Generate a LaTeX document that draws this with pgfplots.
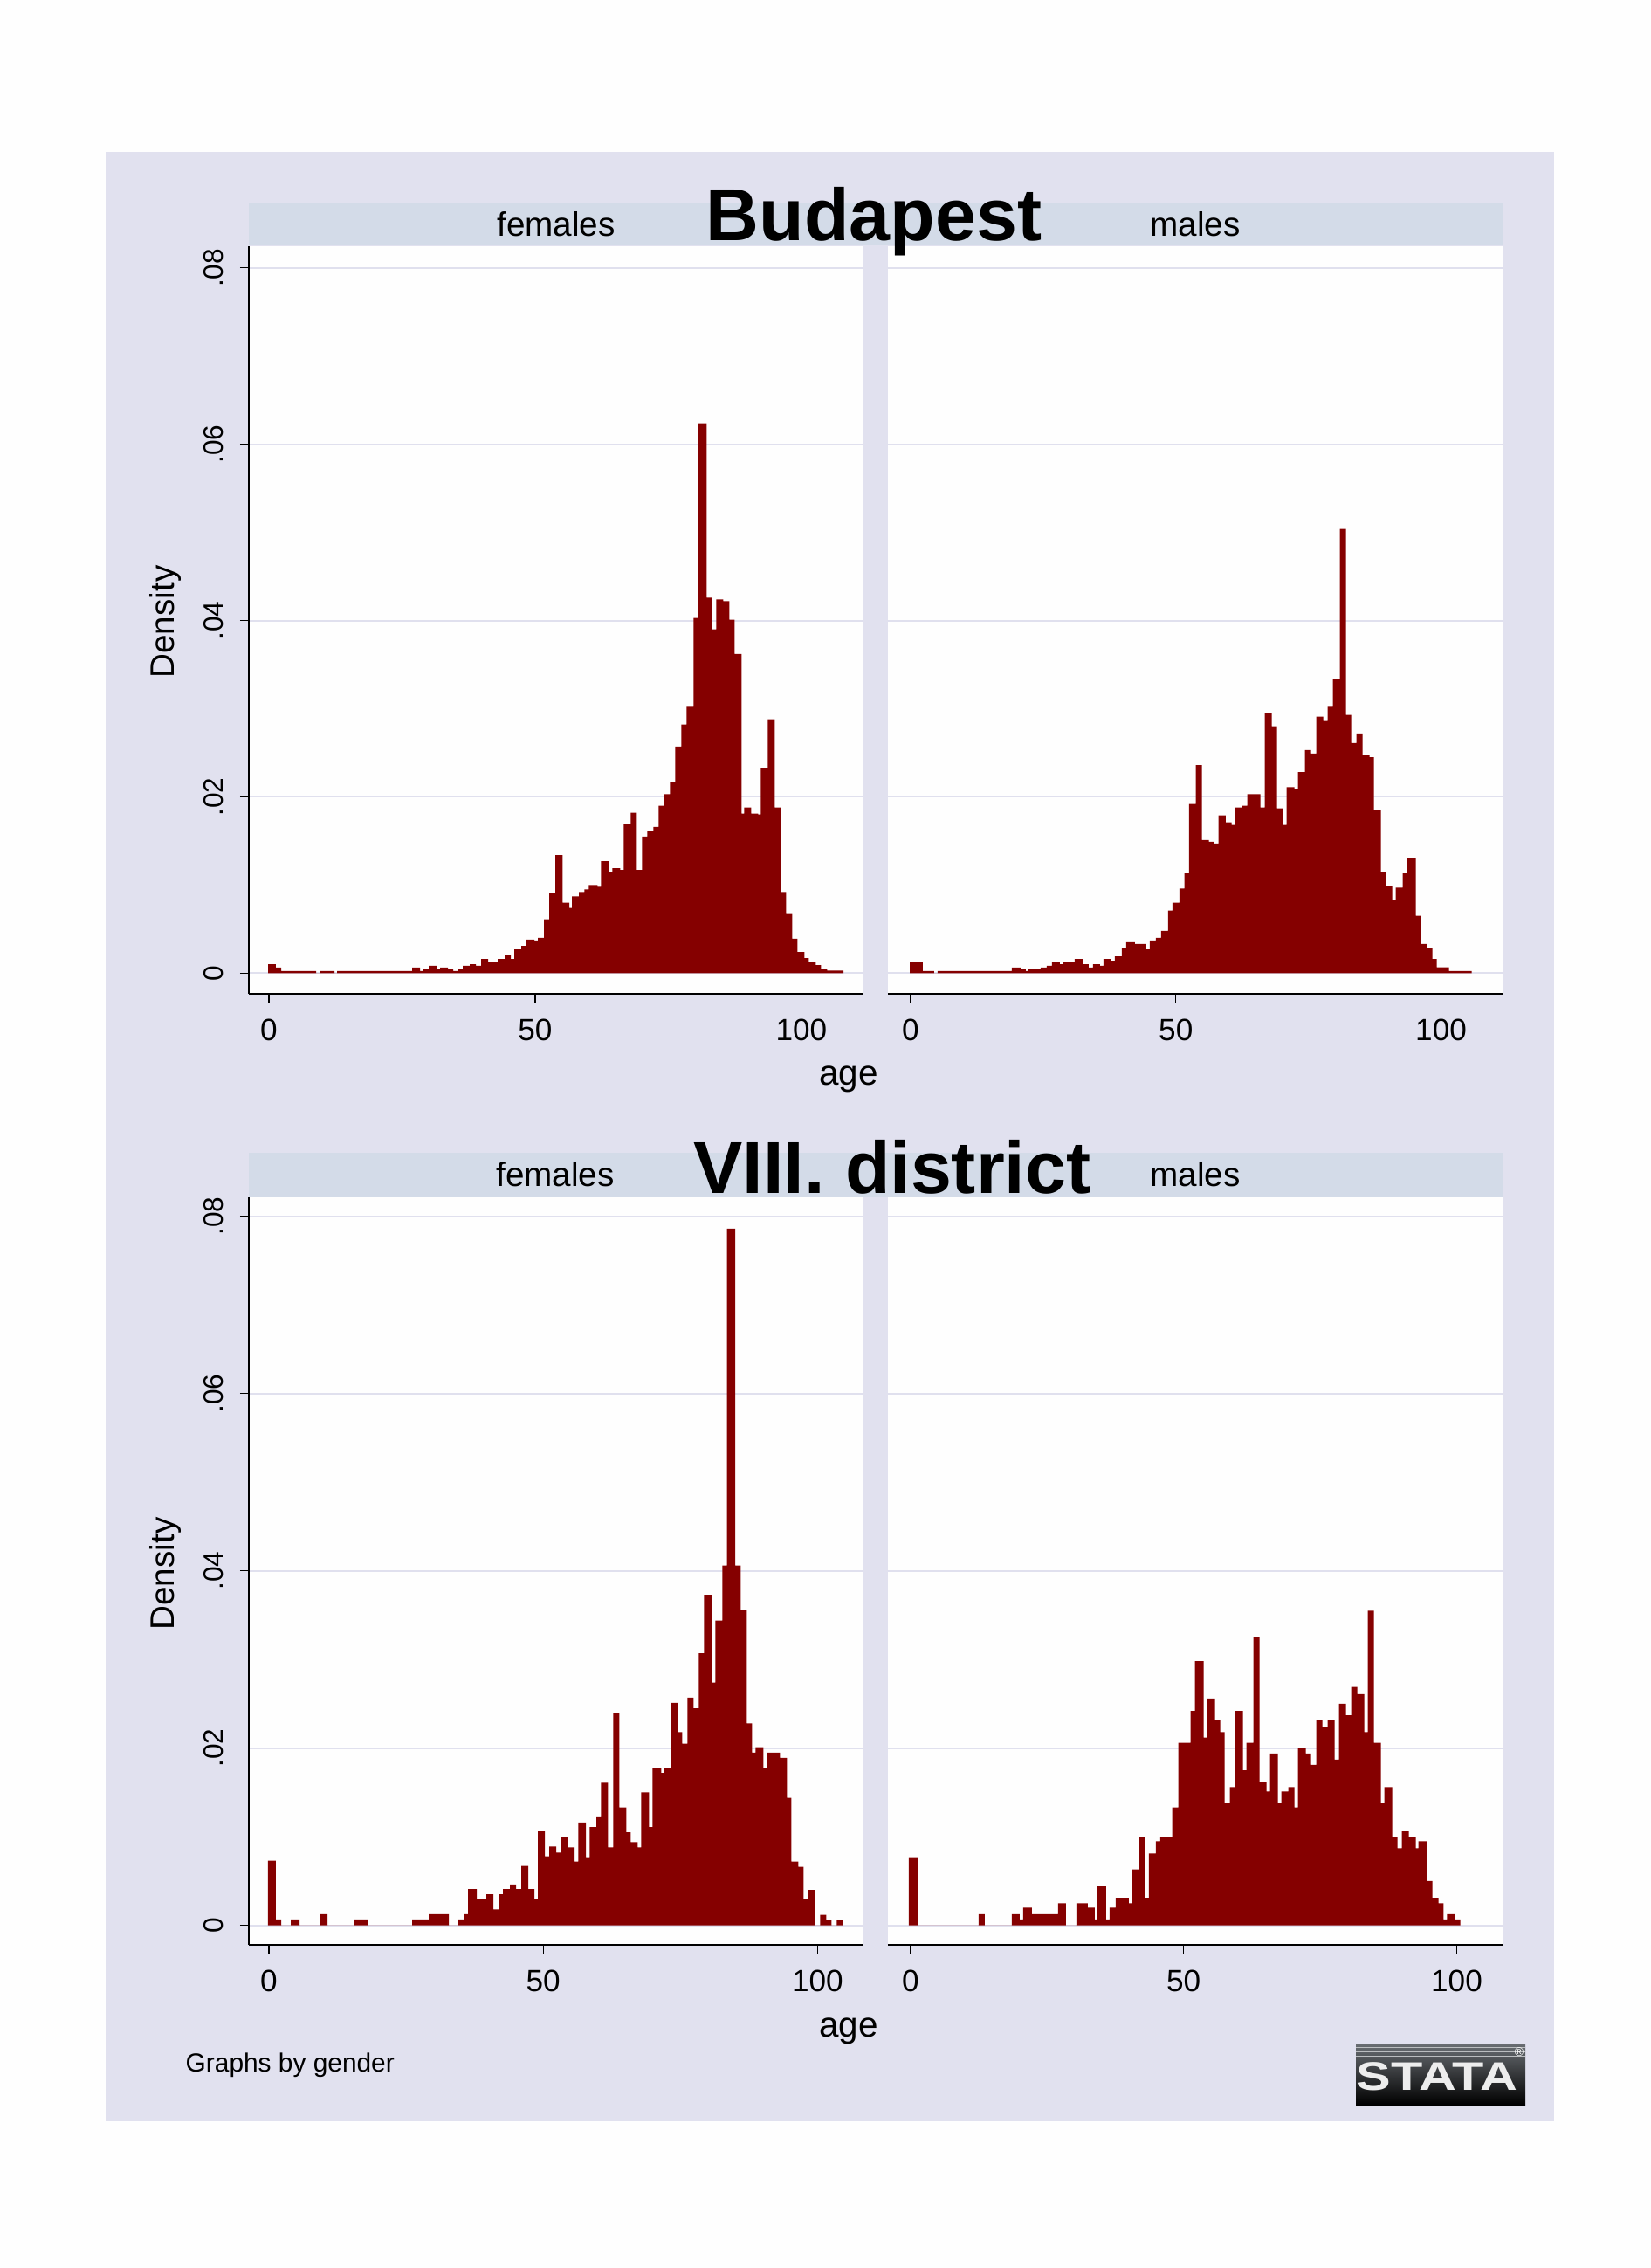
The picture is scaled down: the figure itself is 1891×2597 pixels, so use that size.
\documentclass[border=0pt]{standalone}
\usepackage{pgfplots}
\pgfplotsset{compat=1.18}
\usepackage{fontspec}
\setmainfont{Liberation Sans}

\definecolor{pagebg}{RGB}{254,254,254}
\definecolor{regionbg}{RGB}{225,225,239}
\definecolor{stripbg}{RGB}{211,219,232}
\definecolor{gridc}{RGB}{224,224,238}
\definecolor{barc}{RGB}{133,0,0}
\definecolor{logotop}{RGB}{105,110,115}

\pgfplotsset{
  panel/.style={
    scale only axis, width=70.45mm, height=85.6mm, anchor=south west,
    axis background/.style={fill=pagebg},
    axis x line=bottom, axis y line=left,
    axis line style={-, line width=0.7pt, black},
    ymajorgrids, major grid style={draw=gridc, line width=0.6pt},
    tick align=outside, major tick length=1mm,
    tick style={black, line width=0.35pt},
    scaled y ticks=false, scaled x ticks=false,
    xtick={0,50,100}, xticklabels={0,50,100},
    ytick={0,0.02,0.04,0.06,0.08},
    xticklabel style={font=\fontsize{10}{12}\selectfont, yshift=-0.7mm},
    yticklabel style={font=\fontsize{9}{11}\selectfont, xshift=-0.7mm, rotate=90, anchor=south},
  },
  leftpanel/.style={panel, yticklabels={0,.02,.04,.06,.08}},
  rightpanel/.style={panel, yticklabels={}, y axis line style={draw=none}, ytick style={draw=none}},
}

\begin{document}
\begin{tikzpicture}
\begin{scope}[x=0.1mm,y=-0.1mm]
  \path[use as bounding box] (0,0) rectangle (1891,2597);
  \fill[pagebg] (0,0) rectangle (1891,2597);
  \fill[regionbg] (121,174) rectangle (1780,2429);
  \fill[stripbg] (285,232) rectangle (1722,281);
  \fill[stripbg] (285,1320) rectangle (1722,1371);
\end{scope}

% Budapest, females
\begin{axis}[leftpanel, at={(28.5mm,-113.8mm)}, xmin=-3.77, xmax=111.75, ymin=-0.00235, ymax=0.08246]
\addplot[ybar interval, fill=barc, draw=none] coordinates {
(-0.16,0.00102) (1.31,0.00063) (2.30,0.00023) (8.86,0) (9.68,0.00023) (12.31,0)
(12.80,0.00023) (26.91,0.00063) (28.39,0.00023) (29.04,0.00043) (30.03,0.00083)
(31.51,0.00043) (32.16,0.00063) (33.64,0.00043) (34.62,0.00023) (35.61,0.00043)
(36.43,0.00083) (37.74,0.00102) (38.89,0.00083) (39.87,0.0016) (41.19,0.00122)
(42.99,0.0016) (44.31,0.0021) (45.45,0.0016) (46.11,0.0027) (47.42,0.0031)
(48.24,0.0038) (49.88,0.0037) (50.54,0.0040) (51.69,0.0061) (52.67,0.0091)
(53.82,0.0134) (55.14,0.0080) (56.45,0.0074) (56.94,0.0087) (58.25,0.0092)
(59.24,0.0095) (60.06,0.0100) (61.70,0.0098) (62.36,0.0127) (63.83,0.0115)
(64.49,0.0119) (65.97,0.0117) (66.62,0.0169) (67.94,0.0182) (69.08,0.0117)
(70.07,0.0155) (71.05,0.0161) (72.20,0.0166) (73.19,0.0190) (74.17,0.0203)
(75.32,0.0217) (76.30,0.0257) (77.45,0.0282) (78.44,0.0303) (79.75,0.0403)
(80.57,0.0624) (82.21,0.0426) (83.20,0.0390) (84.02,0.0424) (85.33,0.0422)
(86.48,0.0401) (87.46,0.0362) (88.78,0.0181) (89.27,0.0188) (90.58,0.0181)
(91.89,0.0180) (92.39,0.0233) (93.70,0.0288) (95.01,0.0188) (96.16,0.0092)
(97.14,0.0067) (98.29,0.0039) (99.28,0.0024) (100.59,0.0017) (101.41,0.0013)
(102.72,0.0009) (103.71,0.0005) (104.86,0.0003) (107.92,0)
};
\end{axis}

% Budapest, males
\begin{axis}[rightpanel, at={(101.7mm,-113.8mm)}, xmin=-4.28, xmax=111.68, ymin=-0.00235, ymax=0.08246]
\addplot[ybar interval, fill=barc, draw=none] coordinates {
(-0.16,0.00122) (2.30,0.00023) (4.44,0) (5.10,0.00023) (19.08,0.00063) (20.72,0.00043)
(21.71,0.00023) (22.20,0.00043) (24.51,0.00063) (25.66,0.00083) (26.64,0.00122)
(28.13,0.00102) (28.78,0.00122) (30.92,0.0016) (32.57,0.00102) (33.55,0.00063)
(34.38,0.00102) (35.69,0.00083) (36.35,0.0016) (37.83,0.0014) (38.49,0.0019)
(39.80,0.0029) (40.63,0.0035) (42.27,0.0033) (44.41,0.0027) (45.07,0.0037)
(46.22,0.0040) (47.20,0.0048) (48.52,0.0071) (49.34,0.0080) (50.66,0.0096)
(51.64,0.0113) (52.47,0.0192) (53.78,0.0236) (54.93,0.0151) (56.25,0.0149)
(57.24,0.0147) (58.06,0.0179) (59.38,0.0171) (60.53,0.0168) (61.18,0.0188)
(62.50,0.0190) (63.49,0.0203) (65.95,0.0188) (66.78,0.0295) (68.09,0.0280)
(69.08,0.0187) (70.23,0.0168) (70.89,0.0211) (72.37,0.0209) (73.03,0.0228)
(74.34,0.0253) (75.49,0.0249) (76.48,0.0291) (77.80,0.0286) (78.62,0.0303)
(79.61,0.0334) (80.92,0.0504) (82.07,0.0293) (83.06,0.0261) (84.05,0.0272)
(85.20,0.0247) (86.51,0.0245) (87.34,0.0185) (88.65,0.0115) (89.64,0.0099)
(90.79,0.0083) (91.45,0.0097) (92.76,0.0113) (93.59,0.0130) (95.23,0.0065)
(96.22,0.0033) (97.37,0.0029) (98.36,0.0016) (99.18,0.00065) (101.48,0.00024)
(105.76,0)
};
\end{axis}

% VIII. district, females
\begin{axis}[leftpanel, at={(28.5mm,-222.7mm)}, xmin=-3.66, xmax=108.44, ymin=-0.0022, ymax=0.08214]
\addplot[ybar interval, fill=barc, draw=none] coordinates {
(-0.16,0.0073) (1.27,0.00066) (2.23,0) (3.98,0.00066) (5.57,0) (9.24,0.00125)
(10.67,0) (15.61,0.00066) (17.99,0) (26.11,0.00066) (29.14,0.00125) (32.80,0)
(34.55,0.00066) (35.51,0.00125) (36.31,0.0041) (37.90,0.0029) (39.65,0.0035)
(40.92,0.0018) (41.88,0.0035) (42.68,0.0041) (43.95,0.0046) (45.06,0.0041)
(46.02,0.0067) (47.29,0.0041) (48.41,0.0029) (49.04,0.0106) (50.32,0.0078)
(51.11,0.0089) (52.39,0.0082) (53.34,0.0099) (54.46,0.0088) (55.73,0.0072)
(56.37,0.0116) (57.80,0.0077) (58.44,0.0111) (59.71,0.0122) (60.51,0.0161)
(61.78,0.0088) (62.74,0.0240) (63.85,0.0133) (65.13,0.0105) (65.92,0.0094)
(67.20,0.0088) (67.83,0.0150) (69.27,0.0111) (69.90,0.0178) (71.50,0.0172)
(71.97,0.0178) (73.25,0.0251) (74.52,0.0218) (75.32,0.0205) (76.27,0.0257)
(77.39,0.0245) (78.34,0.0307) (79.30,0.0373) (80.73,0.0274) (81.37,0.0344)
(82.64,0.0406) (83.49,0.0786) (84.98,0.0406) (85.99,0.0356) (87.10,0.0228)
(88.06,0.0195) (88.69,0.0201) (90.13,0.0178) (90.76,0.0195) (93.15,0.0189)
(94.43,0.0144) (95.22,0.0072) (96.50,0.0066) (97.45,0.0029) (98.25,0.0040)
(99.52,0) (100.48,0.0012) (101.59,0.0006) (102.55,0) (103.50,0.0006) (104.62,0)
};
\end{axis}

% VIII. district, males
\begin{axis}[rightpanel, at={(101.7mm,-222.7mm)}, xmin=-4.15, xmax=108.47, ymin=-0.0022, ymax=0.08214]
\addplot[ybar interval, fill=barc, draw=none] coordinates {
(-0.32,0.0077) (1.28,0) (12.46,0.00125) (13.58,0) (18.53,0.00125) (19.97,0.00066)
(20.61,0.0020) (22.20,0.00125) (27.00,0.0025) (28.43,0) (30.35,0.0025) (32.43,0.0020)
(33.71,0.00066) (34.19,0.0044) (35.78,0.00066) (36.42,0.0020) (37.54,0.0031)
(39.94,0.0025) (40.58,0.0063) (41.85,0.0100) (42.97,0.0031) (43.61,0.0081)
(44.89,0.0095) (45.69,0.0100) (47.92,0.0133) (49.04,0.0206) (51.28,0.0242)
(52.08,0.0298) (53.67,0.0212) (54.31,0.0256) (55.75,0.0231) (56.71,0.0218)
(57.51,0.0138) (58.47,0.0156) (59.42,0.0242) (60.86,0.0175) (61.50,0.0206)
(62.78,0.0325) (63.90,0.0162) (65.18,0.0151) (65.81,0.0194) (67.25,0.0138)
(67.89,0.0151) (69.17,0.0156) (70.29,0.0133) (70.93,0.0200) (72.36,0.0194)
(73.32,0.0181) (74.28,0.0231) (75.40,0.0224) (76.36,0.0231) (77.64,0.0187)
(78.43,0.0250) (79.71,0.0237) (80.67,0.0269) (81.79,0.0261) (83.07,0.0218)
(83.71,0.0355) (84.82,0.0206) (86.10,0.0138) (86.74,0.0156) (88.18,0.0100)
(89.14,0.0087) (89.94,0.0106) (91.21,0.0100) (92.49,0.0087) (92.97,0.0095)
(94.57,0.0050) (95.53,0.0031) (96.65,0.0025) (97.60,0.00066) (98.24,0.00125)
(99.68,0.00066) (100.64,0)
};
\end{axis}

\begin{scope}[x=0.1mm,y=-0.1mm]
  % strip labels and titles
  \node[anchor=base, font=\fontsize{11}{13}\selectfont] at (637,270) {females};
  \node[anchor=base, font=\fontsize{11}{13}\selectfont] at (1369,270) {males};
  \node[anchor=base, font=\fontsize{11}{13}\selectfont] at (636,1358) {females};
  \node[anchor=base, font=\fontsize{11}{13}\selectfont] at (1369,1358) {males};
  \node[anchor=base, font=\fontsize{24}{28}\selectfont\bfseries] at (1001,275) {Budapest};
  \node[anchor=base, font=\fontsize{24}{28}\selectfont\bfseries] at (1022,1366) {VIII. district};
  % axis titles
  \node[anchor=base, font=\fontsize{11.5}{14}\selectfont] at (972,1242) {age};
  \node[anchor=base, font=\fontsize{11.5}{14}\selectfont] at (972,2332) {age};
  \node[anchor=base, rotate=90, font=\fontsize{11}{13}\selectfont] at (199,712) {Density};
  \node[anchor=base, rotate=90, font=\fontsize{11}{13}\selectfont] at (199,1802) {Density};
  % note
  \node[anchor=west, inner sep=0pt, font=\fontsize{8.5}{10}\selectfont] at (212,2365) {Graphs by gender};
  % logo
  \shade[top color=logotop, bottom color=black] (1553,2340) rectangle (1747,2410);
  \foreach \yy in {2344,2349,2354} \draw[white!55!logotop, line width=0.3pt] (1553,\yy) -- (1747,\yy);
  \node[text=white!93!black, font=\fontsize{13}{15}\selectfont\bfseries] at (1646,2378) {\scalebox{1.3}[1]{STATA}};
  \node[text=white, font=\fontsize{4}{5}\selectfont] at (1740,2350) {®};
\end{scope}
\end{tikzpicture}
\end{document}
